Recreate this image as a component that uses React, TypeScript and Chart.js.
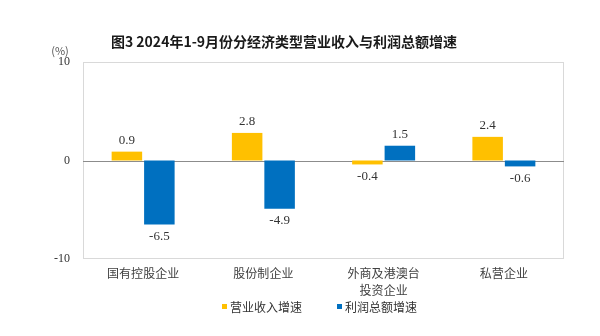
import React, { useEffect, useRef } from "react";
import { Chart, registerables } from "chart.js";

Chart.register(...registerables);

const titleText = "图3 2024年1-9月份分经济类型营业收入与利润总额增速";
const unitLabel = "(%)";
const categories: (string | string[])[] = ["国有控股企业", "股份制企业", ["外商及港澳台", "投资企业"], "私营企业"];
const seriesNames = ["营业收入增速", "利润总额增速"];
const revenueGrowth = [0.9, 2.8, -0.4, 2.4];
const profitGrowth = [-6.5, -4.9, 1.5, -0.6];
const seriesColors = ["#FFC000", "#0070C0"];
const yMin = -10;
const yMax = 10;
const yStep = 10;

const serif = "'Liberation Serif', 'DejaVu Serif', serif";
const cjk = "'Noto Sans CJK SC', 'Noto Sans', sans-serif";

const decorPlugin = {
  id: "decor",
  beforeDatasetsDraw(chart: any) {
    const { ctx, chartArea } = chart;
    ctx.save();
    ctx.strokeStyle = "#d9d9d9";
    ctx.lineWidth = 1;
    ctx.strokeRect(chartArea.left + 0.5, chartArea.top + 0.5, chartArea.right - chartArea.left - 1, chartArea.bottom - chartArea.top - 1);
    const y0 = Math.round(chart.scales.y.getPixelForValue(0)) + 0.5;
    ctx.strokeStyle = "#8c8c8c";
    ctx.beginPath();
    ctx.moveTo(chartArea.left, y0);
    ctx.lineTo(chartArea.right, y0);
    ctx.stroke();
    ctx.restore();
  },
  afterDatasetsDraw(chart: any) {
    const { ctx } = chart;
    ctx.save();
    // value labels
    ctx.font = "13px " + serif;
    ctx.fillStyle = "#333333";
    ctx.textAlign = "center";
    ctx.textBaseline = "middle";
    chart.data.datasets.forEach((ds: any, di: number) => {
      const meta = chart.getDatasetMeta(di);
      meta.data.forEach((el: any, i: number) => {
        const v = ds.data[i];
        const y = v >= 0 ? el.y - 11 : el.y + 12;
        ctx.fillText(v.toFixed(1), el.x, y);
      });
    });
    // title
    ctx.font = "bold 14px " + cjk;
    ctx.fillStyle = "#1a1a1a";
    ctx.fillText(titleText, 284, 42);
    // unit
    ctx.font = "11px " + cjk;
    ctx.fillStyle = "#555555";
    ctx.fillText(unitLabel, 60, 51);
    // legend
    ctx.font = "12px " + cjk;
    ctx.textAlign = "left";
    const legendX = [222, 337];
    seriesNames.forEach((name, i) => {
      ctx.fillStyle = seriesColors[i];
      ctx.fillRect(legendX[i], 304, 5, 5);
      ctx.fillStyle = "#333333";
      ctx.fillText(name, legendX[i] + 8, 307);
    });
    ctx.restore();
  },
};

export default function App() {
  const ref = useRef<HTMLCanvasElement>(null);
  useEffect(() => {
    document.body.style.margin = "0";
    const chart = new Chart(ref.current!, {
      type: "bar",
      data: {
        labels: categories,
        datasets: [
          { label: seriesNames[0], data: revenueGrowth, backgroundColor: seriesColors[0], barPercentage: 0.94, categoryPercentage: 0.54 },
          { label: seriesNames[1], data: profitGrowth, backgroundColor: seriesColors[1], barPercentage: 0.94, categoryPercentage: 0.54 },
        ],
      },
      options: {
        animation: false,
        responsive: false,
        layout: { padding: { left: 0, right: 36, top: 62, bottom: 0 } },
        plugins: { legend: { display: false }, title: { display: false }, tooltip: { enabled: false } },
        scales: {
          x: {
            grid: { display: false, drawTicks: false },
            border: { display: false },
            ticks: { color: "#404040", font: { family: cjk, size: 12, lineHeight: 1.4 }, padding: 6, maxRotation: 0, autoSkip: false },
            afterFit(scale: any) { scale.height = 77; },
          },
          y: {
            min: yMin,
            max: yMax,
            grid: { display: false, drawTicks: false },
            border: { display: false },
            ticks: { stepSize: yStep, color: "#333333", font: { family: serif, size: 12 }, padding: 13 },
            afterFit(scale: any) { scale.width = 83; },
          },
        },
      },
      plugins: [decorPlugin],
    });
    return () => chart.destroy();
  }, []);
  return <canvas ref={ref} width={600} height={336} style={{ display: "block" }} />;
}
